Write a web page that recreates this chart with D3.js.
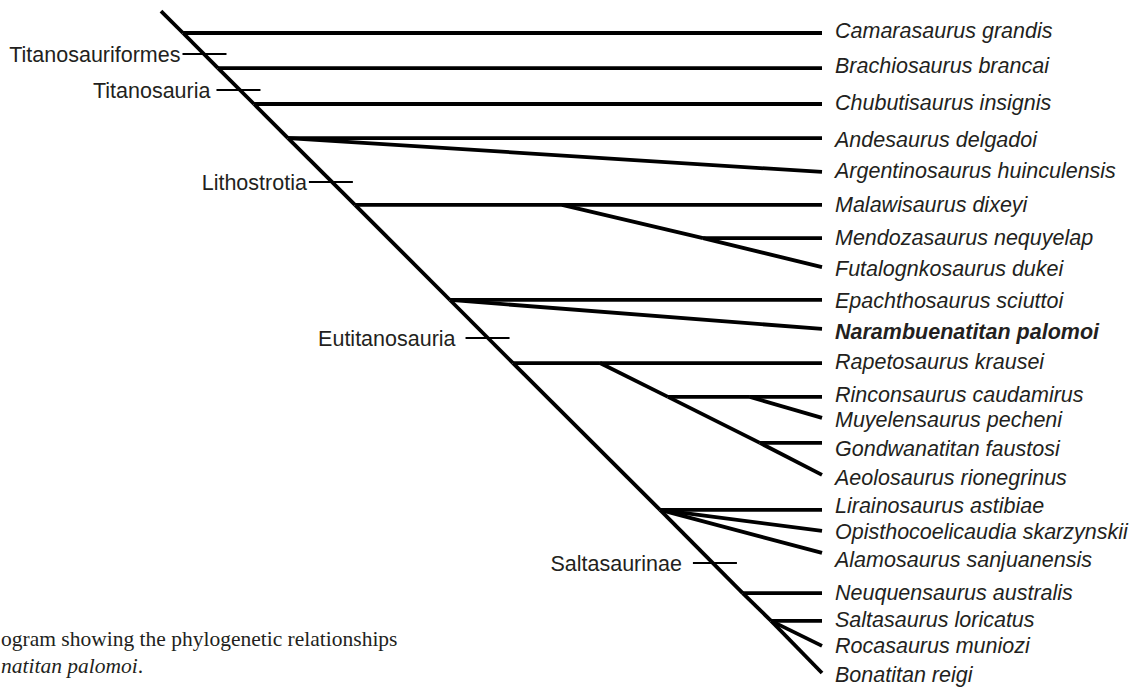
<!DOCTYPE html>
<html lang="en">
  <head>
    <meta charset="utf-8" />
    <title>Cladogram of Titanosauria</title>
    <script src="https://d3js.org/d3.v7.min.js"></script>
    <style>
      body { margin: 0; background: #fff; }
      svg { display: block; }
    </style>
  </head>
  <body>
    <svg id="tree" width="1133" height="688"></svg>
    <script>
    // terminal taxa, top to bottom, and the row each tip sits on
    var taxa = [
      "Camarasaurus grandis", "Brachiosaurus brancai", "Chubutisaurus insignis",
      "Andesaurus delgadoi", "Argentinosaurus huinculensis", "Malawisaurus dixeyi",
      "Mendozasaurus nequyelap", "Futalognkosaurus dukei", "Epachthosaurus sciuttoi",
      "Narambuenatitan palomoi", "Rapetosaurus krausei", "Rinconsaurus caudamirus",
      "Muyelensaurus pecheni", "Gondwanatitan faustosi", "Aeolosaurus rionegrinus",
      "Lirainosaurus astibiae", "Opisthocoelicaudia skarzynskii", "Alamosaurus sanjuanensis",
      "Neuquensaurus australis", "Saltasaurus loricatus", "Rocasaurus muniozi",
      "Bonatitan reigi"
    ];
    var tipRow = [0, 1.15, 2.33, 3.45, 4.56, 5.64, 6.73, 7.68, 8.76, 9.71, 10.83,
      11.94, 12.63, 13.45, 14.5, 15.65, 16.34, 17.06, 18.38, 19.29, 20.11, 21];
    // baseline row of each name (names do not sit exactly on their tips)
    var labelRow = [0.16, 1.31, 2.53, 3.74, 4.76, 5.87, 6.96, 7.97, 9.02, 10.04, 11.03,
      12.11, 12.93, 13.88, 14.83, 15.75, 16.6, 17.52, 18.6, 19.49, 20.34, 21.3];
    var newTaxon = "Narambuenatitan palomoi";

    // internal nodes (depth 0 = root, 100 = tips)
    var nodeIds   = ["root", "n1", "n2", "n3", "n4", "n5", "malawi", "mendoza", "n6", "n7",
                     "rapeto", "rinconStem", "rinconMuy", "gond", "n8", "n9", "n10"];
    var nodeDepth = [0, 3.33, 8.62, 14.07, 19.21, 29.35, 60.67, 82.0, 43.72, 53.25,
                     66.41, 76.7, 89.1, 90.6, 75.5, 88.0, 92.3];
    var nodeRow   = [-0.72, 0, 1.15, 2.33, 3.45, 5.64, 5.64, 6.73, 8.76, 10.83,
                     10.83, 11.94, 11.94, 13.45, 15.65, 18.38, 19.29];

    // branches: parent -> child (node id or taxon index)
    var edges = [
      ["root", "n1"], ["n1", 0], ["n1", "n2"], ["n2", 1], ["n2", "n3"], ["n3", 2], ["n3", "n4"],
      ["n4", 3], ["n4", 4], ["n4", "n5"],
      ["n5", "malawi"], ["malawi", 5], ["malawi", "mendoza"], ["mendoza", 6], ["mendoza", 7],
      ["n5", "n6"], ["n6", 8], ["n6", 9], ["n6", "n7"],
      ["n7", "rapeto"], ["rapeto", 10], ["rapeto", "rinconStem"], ["rinconStem", "rinconMuy"],
      ["rinconMuy", 11], ["rinconMuy", 12], ["rinconStem", "gond"], ["gond", 13], ["gond", 14],
      ["n7", "n8"], ["n8", 15], ["n8", 16], ["n8", 17], ["n8", "n9"], ["n9", 18],
      ["n9", "n10"], ["n10", 19], ["n10", 20], ["n10", 21]
    ];

    // named clades marked on the stem
    var clades     = ["Titanosauriformes", "Titanosauria", "Lithostrotia", "Eutitanosauria", "Saltasaurinae"];
    var cladeDepth = [6.58, 11.72, 25.7, 49.4, 83.8];
    var cladeRow   = [0.69, 1.87, 4.89, 10.01, 17.39];
    var cladeGap   = [2, 6, 2, 10, 11];

    var caption1 = "ogram showing the phylogenetic relationships";
    var caption2 = "natitan palomoi";

    var svg = d3.select("#tree");
    var ink = "#231f20";

    var x = d3.scaleLinear().domain([0, 100]).range([161, 822]);
    var y = d3.scaleLinear().domain([0, 21]).range([33, 673]);

    function pos(key) {
      if (typeof key === "number") return [x(100), y(tipRow[key])];
      var i = nodeIds.indexOf(key);
      return [x(nodeDepth[i]), y(nodeRow[i])];
    }

    // branches
    svg.append("g")
      .selectAll("line")
      .data(edges)
      .enter()
      .append("line")
        .attr("x1", function(d) { return pos(d[0])[0]; })
        .attr("y1", function(d) { return pos(d[0])[1]; })
        .attr("x2", function(d) { return pos(d[1])[0]; })
        .attr("y2", function(d) { return pos(d[1])[1]; })
        .attr("stroke", "#000")
        .attr("stroke-width", 3.8)
        .attr("stroke-linecap", "butt");

    // tip labels
    svg.append("g")
      .selectAll("text")
      .data(taxa)
      .enter()
      .append("text")
        .attr("x", x(100) + 13)
        .attr("y", function(d, i) { return y(labelRow[i]); })
        .style("font-family", "'Liberation Sans', Arial, sans-serif")
        .style("font-size", "21.5px")
        .style("font-style", "italic")
        .style("font-weight", function(d) { return d === newTaxon ? "bold" : "normal"; })
        .attr("fill", ink)
        .text(function(d) { return d; });

    // clade ticks and names
    var half = 22;
    var cg = svg.append("g")
      .selectAll("g")
      .data(clades)
      .enter()
      .append("g");

    cg.append("line")
      .attr("x1", function(d, i) { return x(cladeDepth[i]) - half; })
      .attr("x2", function(d, i) { return x(cladeDepth[i]) + half; })
      .attr("y1", function(d, i) { return y(cladeRow[i]); })
      .attr("y2", function(d, i) { return y(cladeRow[i]); })
      .attr("stroke", "#000")
      .attr("stroke-width", 2);

    cg.append("text")
      .attr("x", function(d, i) { return x(cladeDepth[i]) - half - cladeGap[i]; })
      .attr("y", function(d, i) { return y(cladeRow[i]); })
      .attr("dy", "0.35em")
      .attr("text-anchor", "end")
      .style("font-family", "'Liberation Sans', Arial, sans-serif")
      .style("font-size", "21.5px")
      .attr("fill", ink)
      .text(function(d) { return d; });

    // figure caption (cut off at the left edge in the source)
    var cap = svg.append("g")
      .style("font-family", "'Liberation Serif', 'Times New Roman', serif")
      .style("font-size", "21.5px")
      .attr("fill", ink);

    cap.append("text")
      .attr("x", 1)
      .attr("y", 646)
      .text(caption1);

    var c2 = cap.append("text")
      .attr("x", 1)
      .attr("y", 673);
    c2.append("tspan").style("font-style", "italic").text(caption2);
    c2.append("tspan").text(".");
    </script>
  </body>
</html>
